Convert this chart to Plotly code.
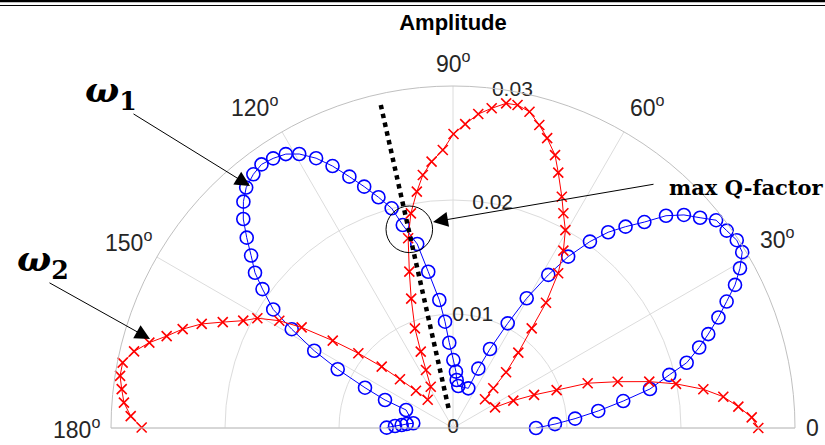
import math
import plotly.graph_objects as go

# ---------------- data ----------------
blue_theta = [0, 2.2, 4.4, 6.7, 9.0, 11.2, 13.8, 15.6, 18.1, 20.2, 22.6, 24.8, 26.9, 29.1,
              31.3, 33.5, 35.8, 38.3, 40.4, 42.7, 44.9, 47.1, 49.4, 51.6, 53.7, 56.1, 58.1,
              60.4, 62.4, 64.9, 66.9, 68.9, 82.8, 85.6, 87.0, 89.7, 92.5, 94.3, 96.1, 99.0,
              101.0, 103.9, 105.6, 107.9, 110.2, 112.4, 114.7, 116.9, 119.3, 121.4, 123.7,
              126.0, 128.2, 130.7, 132.8, 135.1, 137.3, 139.5, 141.9, 143.9, 146.6, 148.5,
              150.9, 153.0, 155.4, 157.6, 159.0, 173.2, 175.1, 176.7, 178.0, 179.7]
blue_r = [0.00728, 0.00895, 0.01074, 0.01283, 0.01512, 0.01761, 0.01954, 0.02128, 0.02272,
          0.02386, 0.02522, 0.02644, 0.02774, 0.02881, 0.02969, 0.02985, 0.02960, 0.02941,
          0.02846, 0.02756, 0.02638, 0.02466, 0.02326, 0.02191, 0.02029, 0.01811, 0.01582,
          0.01309, 0.01036, 0.00765, 0.00566, 0.00373, 0.00371, 0.00422, 0.00495, 0.00596,
          0.00749, 0.00935, 0.01129, 0.01388, 0.01644, 0.01834, 0.02001, 0.02127, 0.02256,
          0.02385, 0.02529, 0.02654, 0.02756, 0.02815, 0.02843, 0.02858, 0.02832, 0.02782,
          0.02706, 0.02597, 0.02462, 0.02329, 0.02207, 0.02068, 0.01889, 0.01659, 0.01393,
          0.01135, 0.00849, 0.00645, 0.00441, 0.00351, 0.00408, 0.00451, 0.00509, 0.00582]

red_theta = [0, 2.05, 4.27, 6.6, 8.8, 11.2, 13.3, 15.7, 18.4, 20.1, 22.2, 24.4, 26.2, 41.9,
             44.6, 46.4, 49.1, 51.7, 53.4, 55.8, 58.1, 60.4, 62.8, 64.8, 67.6, 69.5, 72.0,
             74.1, 76.4, 78.7, 80.7, 83.1, 85.4, 87.7, 89.9, 92.1, 94.6, 96.8, 98.7, 101.1,
             103.3, 105.6, 107.9, 110.9, 112.9, 115.0, 118.4, 131.8, 134.8, 137.4, 139.3,
             141.7, 144.0, 146.4, 148.3, 150.7, 152.9, 155.3, 157.5, 159.9, 162.2, 164.3,
             166.5, 168.8, 171.1, 173.3, 175.6, 177.9, 179.9]
red_r = [0.02678, 0.02622, 0.02510, 0.02387, 0.02222, 0.01994, 0.01769, 0.01501, 0.01245,
         0.00968, 0.00768, 0.00581, 0.00411, 0.00377, 0.00496, 0.00675, 0.00875, 0.01114,
         0.01368, 0.01641, 0.01832, 0.01996, 0.02118, 0.02242, 0.02423, 0.02556, 0.02673,
         0.02764, 0.02854, 0.02889, 0.02886, 0.02825, 0.02763, 0.02668, 0.02579, 0.02440,
         0.02344, 0.02235, 0.02097, 0.01919, 0.01710, 0.01424, 0.01193, 0.00936, 0.00727,
         0.00561, 0.00411, 0.00333, 0.00461, 0.00632, 0.00825, 0.01058, 0.01304, 0.01594,
         0.01791, 0.01968, 0.02067, 0.02223, 0.02386, 0.02525, 0.02638, 0.02767, 0.02877,
         0.02954, 0.02956, 0.02926, 0.02895, 0.02829, 0.02731]

angle_ticks = [0, 30, 60, 90, 120, 150, 180]
angle_labels = ["0", "30<sup>o</sup>", "60<sup>o</sup>", "90<sup>o</sup>",
                "120<sup>o</sup>", "150<sup>o</sup>", "180<sup>o</sup>"]
r_ticks = [0, 0.01, 0.02, 0.03]
r_labels = ["0", "0.01", "0.02", "0.03"]
r_label_angle = 80

maxq_theta = [102.6, 102.6]
maxq_r = [0.0018, 0.0292]

# ---------------- layout helpers ----------------
W, H = 825, 445
CX, CY, RAD = 453, 428, 342  # centre and radius of the polar area in px
R_MAX = 0.03
# where each angular label is centred (direction in degrees, distance in px from the centre)
angle_label_dir = [0, 30.3, 58.8, 90, 121.7, 150, 180]
angle_label_dist = [359, 376, 376, 366, 378, 375, 377]

def px(x):
    return x / W

def py(y):
    return 1 - y / H

fig = go.Figure()

fig.add_trace(go.Scatterpolar(
    theta=blue_theta, r=blue_r, mode="lines+markers",
    line=dict(color="#0000ff", width=1),
    marker=dict(symbol="circle-open", size=13, color="#0000ff", line=dict(width=1.6)),
    showlegend=False, name="ω1", hoverinfo="skip"))

fig.add_trace(go.Scatterpolar(
    theta=red_theta, r=red_r, mode="lines+markers",
    line=dict(color="#ff0000", width=1),
    marker=dict(symbol="x-thin-open", size=10, color="#ff0000", line=dict(width=1.6, color="#ff0000")),
    showlegend=False, name="ω2", hoverinfo="skip"))

fig.add_trace(go.Scatterpolar(
    theta=maxq_theta, r=maxq_r, mode="lines",
    line=dict(color="black", width=4.5, dash="dot"),
    showlegend=False, hoverinfo="skip"))

# radial tick labels along the 80 degree direction
fig.add_trace(go.Scatterpolar(
    theta=[r_label_angle] * len(r_ticks), r=r_ticks, mode="text",
    text=r_labels, textposition="middle center",
    textfont=dict(family="Arial, Liberation Sans", size=21, color="#262626"),
    cliponaxis=False, showlegend=False, hoverinfo="skip"))

fig.update_layout(
    width=W, height=H,
    margin=dict(l=0, r=0, t=0, b=0),
    paper_bgcolor="white",
    title=dict(text="<b>Amplitude</b>", x=CX / W, xanchor="center", y=py(22), yanchor="middle",
               font=dict(family="Arial, Liberation Sans", size=22, color="black")),
    polar=dict(
        domain=dict(x=[px(CX - RAD), px(CX + RAD)], y=[py(CY), py(CY - RAD)]),
        sector=[0, 180],
        bgcolor="white",
        radialaxis=dict(range=[0, R_MAX], tickvals=[0.01, 0.02, 0.03], showticklabels=False,
                        ticks="", showline=False, gridcolor="#dcdcdc", gridwidth=1),
        angularaxis=dict(tickmode="array", tickvals=angle_ticks, showticklabels=False,
                         direction="counterclockwise", rotation=0, ticks="",
                         gridcolor="#dcdcdc", showline=True, linecolor="#c0c0c0", linewidth=1),
    ),
    shapes=[
        dict(type="line", xref="paper", yref="paper", x0=0, x1=1, y0=py(1), y1=py(1),
             line=dict(color="black", width=2.5)),
        dict(type="line", xref="paper", yref="paper", x0=0, x1=1, y0=py(5.5), y1=py(5.5),
             line=dict(color="black", width=1.2)),
        dict(type="circle", xref="paper", yref="paper",
             x0=px(386), x1=px(432.6), y0=py(252.6), y1=py(206),
             line=dict(color="black", width=1)),
    ],
)

# angular tick labels, centred just outside the outer ring
for lab, ang, dist in zip(angle_labels, angle_label_dir, angle_label_dist):
    a = math.radians(ang)
    fig.add_annotation(x=px(CX + dist * math.cos(a)), y=py(CY - dist * math.sin(a)),
                       xref="paper", yref="paper", showarrow=False,
                       xanchor="center", yanchor="middle", text=lab,
                       font=dict(family="Arial, Liberation Sans", size=23, color="#262626"))

arrow_style = dict(showarrow=True, arrowhead=2, arrowsize=3, arrowwidth=1, arrowcolor="black",
                   xref="paper", yref="paper", text="", standoff=0, startstandoff=0)
fig.add_annotation(x=px(250), y=py(186), ax=-118, ay=-73, **arrow_style)
fig.add_annotation(x=px(150), y=py(339), ax=-102, ay=-57, **arrow_style)
fig.add_annotation(x=px(433), y=py(222), ax=222, ay=-38, **arrow_style)

label_font = dict(family="DejaVu Serif", size=36, color="black")
fig.add_annotation(x=px(111), y=py(92), xref="paper", yref="paper", showarrow=False,
                   xanchor="center", yanchor="middle",
                   text="<b><i>ω</i><sub>1</sub></b>", font=label_font)
fig.add_annotation(x=px(43), y=py(261), xref="paper", yref="paper", showarrow=False,
                   xanchor="center", yanchor="middle",
                   text="<b><i>ω</i><sub>2</sub></b>", font=label_font)
fig.add_annotation(x=px(667), y=py(188), xref="paper", yref="paper", showarrow=False,
                   xanchor="left", yanchor="middle",
                   text="<b>max Q-factor</b>", font=dict(family="DejaVu Serif", size=21, color="black"))

# the page body has a default 8px margin; remove it so the figure sits at the window origin
fig.write_html("out.html", config={"displayModeBar": False},
               post_script="document.body.style.margin='0px';")
